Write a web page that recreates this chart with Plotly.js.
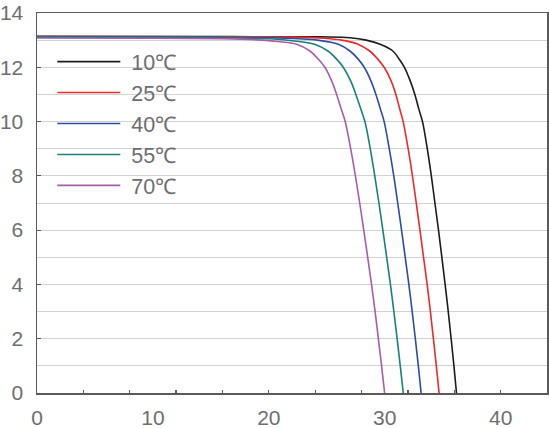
<!DOCTYPE html>
<html>
<head>
<meta charset="utf-8">
<script src="https://cdn.plot.ly/plotly-3.0.1.min.js"></script>
<style>html,body{margin:0;padding:0;background:#fff;}#chart{width:549px;height:428px;}</style>
</head>
<body>
<div id="chart"></div>
<script>
// Series names
const seriesNames = ["10℃", "25℃", "40℃", "55℃", "70℃"];
const seriesColors = ["#1c1c1c", "#ec2a2a", "#2a4da6", "#18817a", "#a95caa"];

// Voltage (V) and current (A)
const v10 = [0, 15, 24.5, 27.0, 28.4, 29.6, 30.7, 31.25, 31.7, 32.2, 32.6, 32.95, 33.26, 33.67, 34.02, 34.33, 34.64, 34.93, 35.21, 35.48, 35.73, 35.97, 36.19];
const i10 = [13.14, 13.13, 13.12, 13.09, 13.0, 12.85, 12.6, 12.3, 12.0, 11.5, 11.0, 10.45, 10, 9, 8, 7, 6, 5, 4, 3, 2, 1, 0];

const v25 = [0, 15, 22, 24.8, 26.3, 27.7, 28.7, 29.4, 29.95, 30.55, 30.96, 31.29, 31.59, 32.02, 32.39, 32.72, 33.04, 33.35, 33.66, 33.94, 34.2, 34.45, 34.69];
const i25 = [13.13, 13.12, 13.11, 13.07, 13.0, 12.85, 12.6, 12.3, 12.0, 11.5, 11.0, 10.47, 10, 9, 8, 7, 6, 5, 4, 3, 2, 1, 0];

const v40 = [0, 15, 20, 22.6, 24.2, 26.0, 27.0, 27.71, 28.23, 28.81, 29.24, 29.62, 29.95, 30.39, 30.78, 31.12, 31.45, 31.77, 32.08, 32.37, 32.64, 32.9, 33.14];
const i40 = [13.12, 13.11, 13.09, 13.05, 13.0, 12.85, 12.6, 12.3, 12.0, 11.5, 11.0, 10.47, 10, 9, 8, 7, 6, 5, 4, 3, 2, 1, 0];

const v55 = [0, 10, 17.5, 20.4, 22.0, 23.95, 25.1, 25.85, 26.42, 27.06, 27.51, 27.93, 28.29, 28.75, 29.14, 29.5, 29.84, 30.17, 30.49, 30.79, 31.07, 31.34, 31.6];
const i55 = [13.11, 13.1, 13.08, 13.04, 12.98, 12.85, 12.6, 12.3, 12.0, 11.5, 11.0, 10.47, 10, 9, 8, 7, 6, 5, 4, 3, 2, 1, 0];

const v70 = [0, 10, 16, 19, 20.8, 22.4, 23.55, 24.27, 24.84, 25.42, 25.85, 26.24, 26.59, 27.06, 27.47, 27.84, 28.19, 28.53, 28.86, 29.17, 29.45, 29.73, 29.99];
const i70 = [13.08, 13.07, 13.05, 13.01, 12.95, 12.85, 12.6, 12.3, 12.0, 11.5, 11.0, 10.47, 10, 9, 8, 7, 6, 5, 4, 3, 2, 1, 0];

// Axis ticks
const xTickLabels = [0, 10, 20, 30, 40];
const yTickLabels = [0, 2, 4, 6, 8, 10, 12, 14];

const vs = [v10, v25, v40, v55, v70];
const is = [i10, i25, i40, i55, i70];

const traces = vs.map((v, k) => ({
  x: v, y: is[k], type: "scatter", mode: "lines", name: "\u00a0" + seriesNames[k],
  line: {color: seriesColors[k], width: 1.6, shape: "spline", smoothing: 1}
}));
// invisible trace to carry the tick-mark axis
traces.push({x: [0], y: [0], xaxis: "x2", mode: "markers", marker: {opacity: 0}, showlegend: false, hoverinfo: "skip"});

const font = {family: "Liberation Sans, Arial, sans-serif", color: "#6e6e6e", size: 21};
const layout = {
  width: 549, height: 428,
  margin: {l: 36.7, r: 1.7, t: 13.3, b: 34.7, pad: 0},
  paper_bgcolor: "#fff", plot_bgcolor: "#fff",
  font: font,
  showlegend: true,
  legend: {x: 0.03, y: 0.926, xanchor: "left", yanchor: "top", bgcolor: "rgba(0,0,0,0)",
           font: {family: font.family, color: "#6e6e6e", size: 21.5}, itemwidth: 63, tracegroupgap: 0},
  xaxis: {range: [0, 44], tickmode: "array", tickvals: xTickLabels, ticktext: xTickLabels.map(String),
          ticks: "", showgrid: false, zeroline: false, showline: true, mirror: true,
          linecolor: "#595959", linewidth: 1.5, ticklabelstandoff: 5, tickfont: font},
  xaxis2: {range: [0, 44], overlaying: "x", side: "bottom", tickmode: "linear", tick0: 0, dtick: 4,
           ticks: "inside", ticklen: 3, tickwidth: 1.2, tickcolor: "#595959", showticklabels: false,
           showgrid: false, zeroline: false, showline: false},
  yaxis: {range: [0, 14], tickmode: "array", tickvals: yTickLabels, ticktext: yTickLabels.map(String),
          ticks: "inside", ticklen: 4, tickwidth: 1.2, tickcolor: "#595959",
          showgrid: true, gridcolor: "#d2d2d2", gridwidth: 1,
          minor: {dtick: 1, showgrid: true, gridcolor: "#d2d2d2", gridwidth: 1},
          zeroline: false, showline: true, mirror: true, linecolor: "#595959", linewidth: 1.5,
          ticklabelstandoff: 8, tickfont: font}
};

Plotly.newPlot("chart", traces, layout, {displayModeBar: false, staticPlot: true});
</script>
</body>
</html>
